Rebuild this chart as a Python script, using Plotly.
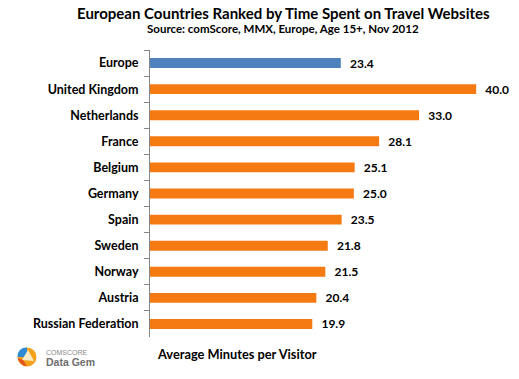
import plotly.graph_objects as go

countries = ["Europe", "United Kingdom", "Netherlands", "France", "Belgium", "Germany",
             "Spain", "Sweden", "Norway", "Austria", "Russian Federation"]
minutes = [23.4, 40.0, 33.0, 28.1, 25.1, 25.0, 23.5, 21.8, 21.5, 20.4, 19.9]
colors = ["#4F81BD"] + ["#F67A12"] * (len(countries) - 1)
labels = [f"{v:.1f}" for v in minutes]

FONT = "Lato, 'Open Sans', sans-serif"

# page has an 8px body margin -> figure is 8px smaller, coordinates given in reference pixels
OFF = 8
W, H = 519 - OFF, 379 - OFF
PL, PR, PT, PB = 150, 499, 50, 337  # plot area in reference pixels


def px(x):
    return (x - PL) / (PR - PL)


def py(y):
    return (PB - y) / (PB - PT)


fig = go.Figure(go.Bar(
    x=minutes, y=countries, orientation="h",
    marker=dict(color=colors, line=dict(width=0)),
    text=labels, textposition="outside", cliponaxis=False, constraintext="none",
    textfont=dict(family=FONT, size=12, color="#000000"),
    texttemplate="&nbsp;&nbsp;<b>%{text}</b>",
))

fig.update_layout(
    width=W, height=H,
    margin=dict(l=PL - OFF, r=519 - PR, t=PT - OFF, b=379 - PB),
    paper_bgcolor="white", plot_bgcolor="white",
    bargap=0.62, showlegend=False,
    font=dict(family=FONT, size=11, color="#000000"),
)
fig.update_xaxes(range=[0, 42.8], visible=False, fixedrange=True)
fig.update_yaxes(
    autorange="reversed", showline=True, linecolor="#868686", linewidth=1,
    ticks="outside", ticklen=5, tickcolor="#868686", tickson="boundaries",
    ticklabelstandoff=8,
    tickfont=dict(family=FONT, size=12.5, color="#000000"),
    tickprefix="<b>", ticksuffix="</b>",
    showgrid=False, zeroline=False,
)


def note(text, x, y, size, color="#000000", family=FONT, xanchor="center"):
    fig.add_annotation(text=text, xref="paper", yref="paper", x=px(x), y=py(y),
                       xanchor=xanchor, yanchor="middle", showarrow=False,
                       font=dict(family=family, size=size, color=color))


note("<b>European Countries Ranked by Time Spent on Travel Websites</b>", 283, 13, 15)
note("<b>Source: comScore, MMX, Europe, Age 15+, Nov 2012</b>", 283, 29, 11.5)
note("<b>Average Minutes per Visitor</b>", 237, 354, 12.8)

# logo
cx, cy, r = 27, 357, 9.5
fig.add_shape(type="circle", xref="paper", yref="paper",
              x0=px(cx - r), x1=px(cx + r), y0=py(cy + r), y1=py(cy - r),
              fillcolor="#F4A21C", line=dict(width=0), layer="above")
fig.add_shape(type="path", xref="paper", yref="paper",
              path=f"M {px(cx)} {py(cy)} L {px(cx-r)} {py(cy)} "
                   f"Q {px(cx-r)} {py(cy-r)} {px(cx)} {py(cy-r)} Z",
              fillcolor="#2E8BD6", line=dict(width=0), layer="above")
fig.add_shape(type="path", xref="paper", yref="paper",
              path=f"M {px(cx+1)} {py(cy-7)} L {px(cx+7)} {py(cy+4)} L {px(cx-5)} {py(cy+3)} Z",
              fillcolor="#F7EBC8", line=dict(width=0), layer="above")
fig.add_shape(type="path", xref="paper", yref="paper",
              path=f"M {px(cx-r)} {py(cy+1)} Q {px(cx-7)} {py(cy+8)} {px(cx)} {py(cy+r)} L {px(cx-4)} {py(cy+3)} Z",
              fillcolor="#E0521A", line=dict(width=0), layer="above")
note("COMSCORE", 44, 352, 7, color="#8A8A8A", family="Liberation Sans, sans-serif", xanchor="left")
note("<b>Data Gem</b>", 44, 362, 10.5, color="#6E6E6E", family="Liberation Sans, sans-serif", xanchor="left")

fig.write_html("out.html")
